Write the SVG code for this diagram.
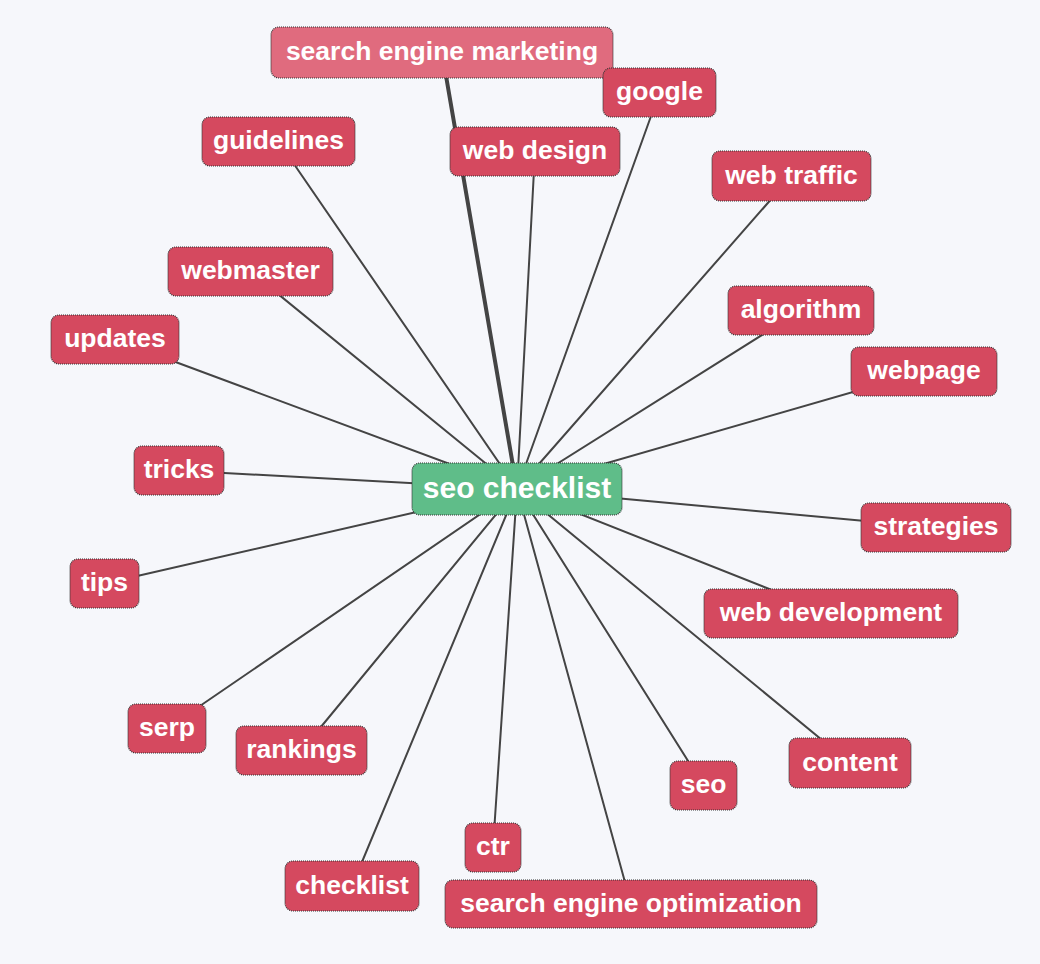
<svg xmlns="http://www.w3.org/2000/svg" width="1040" height="964" viewBox="0 0 1040 964">
<style>
.bg{fill:#f6f7fb}
.edge{stroke:#444;stroke-width:2;fill:none;stroke-linecap:round}
.edge.main{stroke-width:4}
.node rect{fill:#d5495f;stroke:#333;stroke-width:1.2;stroke-dasharray:1 1}
.node.hl rect{fill:#e06b7e}
.node.root rect{fill:#5fbd89}
.node text{fill:#fff;font-family:"Liberation Sans",Arial,sans-serif;font-weight:700;font-size:26.5px;text-anchor:middle}
.node.root text{font-size:30px}
</style>
<rect class="bg" x="0" y="0" width="1040" height="964"/>
<g id="connectors">
<line class="edge main" x1="442" y1="52.5" x2="517" y2="489"/>
<line class="edge" x1="659.5" y1="92.5" x2="517" y2="489"/>
<line class="edge" x1="278.5" y1="141.5" x2="517" y2="489"/>
<line class="edge" x1="535" y1="151.5" x2="517" y2="489"/>
<line class="edge" x1="791.5" y1="176" x2="517" y2="489"/>
<line class="edge" x1="250.5" y1="271.5" x2="517" y2="489"/>
<line class="edge" x1="115" y1="339.5" x2="517" y2="489"/>
<line class="edge" x1="801" y1="310.5" x2="517" y2="489"/>
<line class="edge" x1="924" y1="371.5" x2="517" y2="489"/>
<line class="edge" x1="179" y1="470.5" x2="517" y2="489"/>
<line class="edge" x1="936" y1="527.5" x2="517" y2="489"/>
<line class="edge" x1="104.5" y1="583.5" x2="517" y2="489"/>
<line class="edge" x1="831" y1="613.5" x2="517" y2="489"/>
<line class="edge" x1="167" y1="728.5" x2="517" y2="489"/>
<line class="edge" x1="301.5" y1="750.5" x2="517" y2="489"/>
<line class="edge" x1="850" y1="763" x2="517" y2="489"/>
<line class="edge" x1="703.5" y1="785.5" x2="517" y2="489"/>
<line class="edge" x1="493" y1="847.5" x2="517" y2="489"/>
<line class="edge" x1="352" y1="886" x2="517" y2="489"/>
<line class="edge" x1="631" y1="904" x2="517" y2="489"/>
</g>
<g id="n-sem" class="node hl"><rect x="271" y="27" width="342" height="51" rx="8"/><text x="442" y="60">search engine marketing</text></g>
<g id="n-google" class="node"><rect x="603" y="68" width="113" height="49" rx="8"/><text x="659.5" y="100">google</text></g>
<g id="n-guidelines" class="node"><rect x="202" y="117" width="153" height="49" rx="8"/><text x="278.5" y="149">guidelines</text></g>
<g id="n-webdesign" class="node"><rect x="450" y="127" width="170" height="49" rx="8"/><text x="535" y="159">web design</text></g>
<g id="n-webtraffic" class="node"><rect x="712" y="151" width="159" height="50" rx="8"/><text x="791.5" y="183.5">web traffic</text></g>
<g id="n-webmaster" class="node"><rect x="168" y="247" width="165" height="49" rx="8"/><text x="250.5" y="279">webmaster</text></g>
<g id="n-updates" class="node"><rect x="51" y="315" width="128" height="49" rx="8"/><text x="115" y="347">updates</text></g>
<g id="n-algorithm" class="node"><rect x="728" y="286" width="146" height="49" rx="8"/><text x="801" y="318">algorithm</text></g>
<g id="n-webpage" class="node"><rect x="851" y="347" width="146" height="49" rx="8"/><text x="924" y="379">webpage</text></g>
<g id="n-tricks" class="node"><rect x="134" y="446" width="90" height="49" rx="8"/><text x="179" y="478">tricks</text></g>
<g id="n-strategies" class="node"><rect x="861" y="503" width="150" height="49" rx="8"/><text x="936" y="535">strategies</text></g>
<g id="n-tips" class="node"><rect x="70" y="559" width="69" height="49" rx="8"/><text x="104.5" y="591">tips</text></g>
<g id="n-webdev" class="node"><rect x="704" y="589" width="254" height="49" rx="8"/><text x="831" y="621">web development</text></g>
<g id="n-serp" class="node"><rect x="128" y="704" width="78" height="49" rx="8"/><text x="167" y="736">serp</text></g>
<g id="n-rankings" class="node"><rect x="236" y="726" width="131" height="49" rx="8"/><text x="301.5" y="758">rankings</text></g>
<g id="n-content" class="node"><rect x="789" y="738" width="122" height="50" rx="8"/><text x="850" y="770.5">content</text></g>
<g id="n-seo" class="node"><rect x="670" y="761" width="67" height="49" rx="8"/><text x="703.5" y="793">seo</text></g>
<g id="n-ctr" class="node"><rect x="465" y="823" width="56" height="49" rx="8"/><text x="493" y="855">ctr</text></g>
<g id="n-checklist" class="node"><rect x="285" y="861" width="134" height="50" rx="8"/><text x="352" y="893.5">checklist</text></g>
<g id="n-seoopt" class="node"><rect x="445" y="880" width="372" height="48" rx="8"/><text x="631" y="911.5">search engine optimization</text></g>
<g id="n-root" class="node root"><rect x="412" y="463" width="210" height="52" rx="8"/><text x="517" y="498">seo checklist</text></g>
</svg>
